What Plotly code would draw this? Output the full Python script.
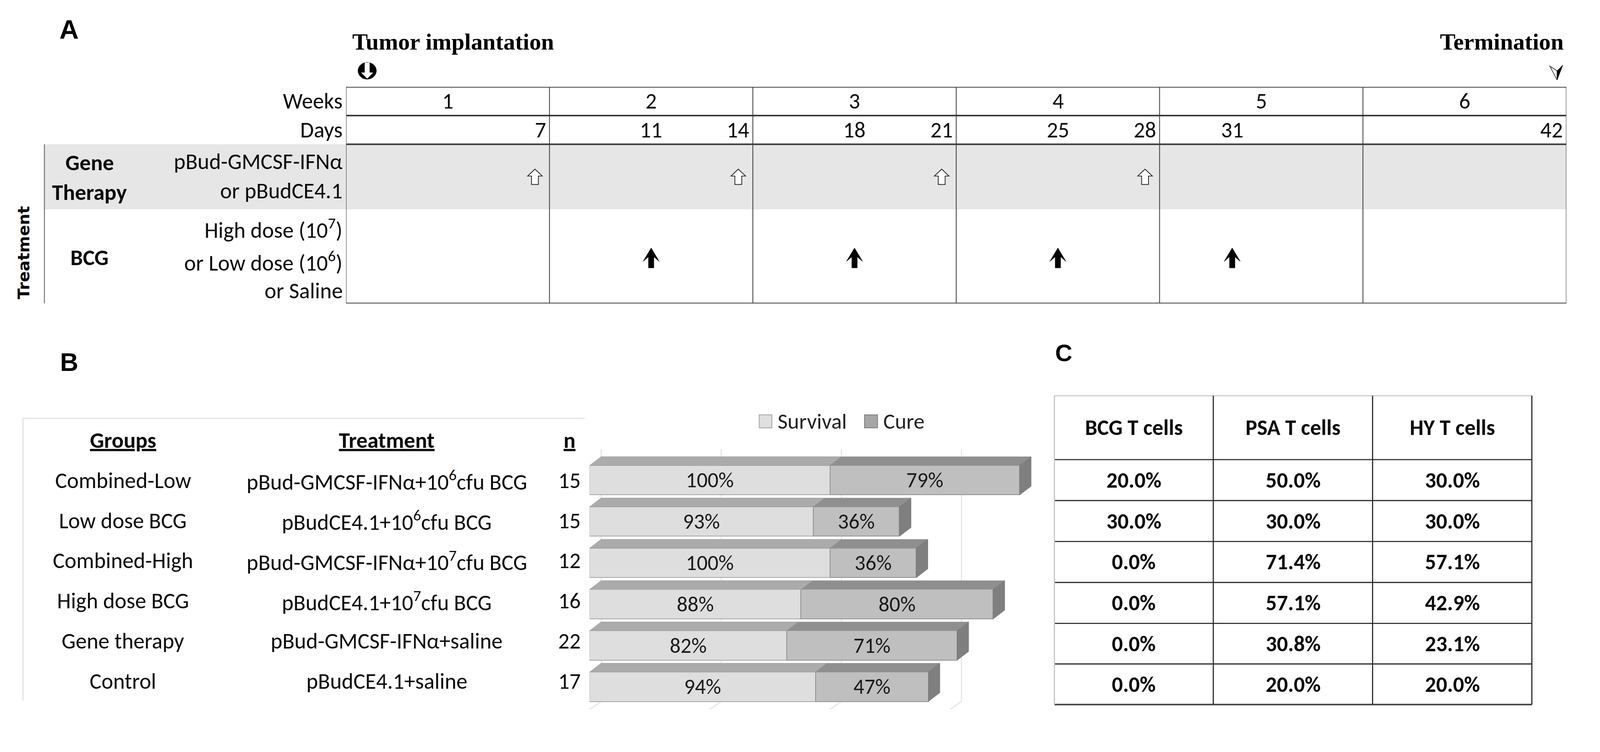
import plotly.graph_objects as go

W, H = 4179, 1926

# ---------------- data ----------------
WEEKS = [1, 2, 3, 4, 5, 6]
DAY_LABELS = [7, 11, 14, 18, 21, 25, 28, 31, 42]
GENE_DAYS = [7, 14, 21, 28]          # pBud-GMCSF-IFNa / pBudCE4.1 injections
BCG_DAYS = [11, 18, 25, 31]          # BCG / saline instillations
GENE_LABELS = ["pBud-GMCSF-IFNα", "or pBudCE4.1"]
BCG_LABELS = ["High dose (10<sup>7</sup>)", "or Low dose (10<sup>6</sup>)", "or Saline"]

GROUPS = ["Combined-Low", "Low dose BCG", "Combined-High", "High dose BCG",
          "Gene therapy", "Control"]
TREATMENTS = ["pBud-GMCSF-IFNα+10<sup>6</sup>cfu BCG",
              "pBudCE4.1+10<sup>6</sup>cfu BCG",
              "pBud-GMCSF-IFNα+10<sup>7</sup>cfu BCG",
              "pBudCE4.1+10<sup>7</sup>cfu BCG",
              "pBud-GMCSF-IFNα+saline",
              "pBudCE4.1+saline"]
N = [15, 15, 12, 16, 22, 17]
SURVIVAL = [100, 93, 100, 88, 82, 94]
CURE = [79, 36, 36, 80, 71, 47]

TCELL_HEADERS = ["BCG T cells", "PSA T cells", "HY T cells"]
BCG_T = [20.0, 30.0, 0.0, 0.0, 0.0, 0.0]
PSA_T = [50.0, 30.0, 71.4, 57.1, 30.8, 20.0]
HY_T = [30.0, 30.0, 57.1, 42.9, 23.1, 20.0]

# ---------------- helpers ----------------
def px(x):
    return x / W


def py(y):
    return 1 - y / H


SANS = "Carlito, Lato, sans-serif"
SERIF = "Liberation Serif, Times New Roman, serif"
ARIAL = "Liberation Sans, Arial, sans-serif"
FS = 58   # body text size
TXT = "#0a0a0a"

fig = go.Figure()
shapes = []
ann = []


def text(x, y, s, size=FS, xref="paper", yref="paper", xanchor="center",
         yanchor="middle", family=SANS, color=TXT, angle=0, xshift=0):
    ann.append(dict(x=x, y=y, xref=xref, yref=yref, text=s, showarrow=False,
                    xanchor=xanchor, yanchor=yanchor, textangle=angle,
                    xshift=xshift,
                    font=dict(family=family, size=size, color=color)))


def pix_path(xref, yref, xa, ya, path, fill, lc, lw):
    shapes.append(dict(type="path", xref=xref, yref=yref, xsizemode="pixel",
                       ysizemode="pixel", xanchor=xa, yanchor=ya, path=path,
                       fillcolor=fill, line=dict(color=lc, width=lw),
                       layer="above"))


# ================= Panel A : timeline =================
DAYS_MAX = 7 * len(WEEKS)
ROW_H_A = [75, 75, 170, 246]
edges = [0]
for h in ROW_H_A:
    edges.append(edges[-1] + h)
TOTAL_A = edges[-1]

# invisible anchor trace
fig.add_trace(go.Scatter(x=BCG_DAYS, y=[0] * len(BCG_DAYS), xaxis="x", yaxis="y",
                         mode="markers", marker=dict(opacity=0), hoverinfo="skip"))

# shading for gene therapy row
shapes.append(dict(type="rect", xref="paper", yref="y", x0=px(116), x1=px(4091),
                   y0=edges[2], y1=edges[3], fillcolor="#e6e6e6", line_width=0,
                   layer="below"))
for e in [edges[0], edges[1], edges[2], edges[4]]:
    shapes.append(dict(type="line", xref="x", yref="y", x0=0, x1=DAYS_MAX,
                       y0=e, y1=e, line=dict(color="#3a3a3a", width=4)))
for w in range(len(WEEKS) + 1):
    shapes.append(dict(type="line", xref="x", yref="y", x0=7 * w, x1=7 * w,
                       y0=0, y1=TOTAL_A, line=dict(color="#333", width=2)))
shapes.append(dict(type="line", xref="paper", yref="y", x0=px(116), x1=px(116),
                   y0=edges[2], y1=edges[4], line=dict(color="#555", width=2)))

# week numbers and days
for w in WEEKS:
    text(7 * w - 3.5, (edges[0] + edges[1]) / 2, str(w), xref="x", yref="y")
for d in DAY_LABELS:
    if d % 7 == 0:
        text(d, (edges[1] + edges[2]) / 2, str(d), xref="x", yref="y",
             xanchor="right", xshift=-7)
    else:
        text(d - 0.5, (edges[1] + edges[2]) / 2, str(d), xref="x", yref="y")

LAB_X = px(897)
text(LAB_X, (edges[0] + edges[1]) / 2, "Weeks", yref="y", xanchor="right")
text(LAB_X, (edges[1] + edges[2]) / 2, "Days", yref="y", xanchor="right")
text(LAB_X, 195, GENE_LABELS[0], yref="y", xanchor="right")
text(LAB_X, 271, GENE_LABELS[1], yref="y", xanchor="right")
for yy, s in zip([370, 456, 533], BCG_LABELS):
    text(LAB_X, yy, s, yref="y", xanchor="right")
text(px(234), 198, "<b>Gene</b>", yref="y")
text(px(234), 275, "<b>Therapy</b>", yref="y")
text(px(234), 446, "<b>BCG</b>", yref="y")
text(px(62), 433, "<b>Treatment</b>", yref="y", angle=-90,
     family="DejaVu Sans, sans-serif", size=42)

# arrows
OPEN_ARROW = "M0,20 L19,2 L9,2 L9,-20 L-9,-20 L-9,2 L-19,2 Z"
SOLID_ARROW = "M0,26 L21,-9 L7,3 L7,-26 L-7,-26 L-7,3 L-21,-9 Z"
for d in GENE_DAYS:
    pix_path("x", "y", d - 0.5, 235, OPEN_ARROW, "white", "#222", 2)
for d in BCG_DAYS:
    pix_path("x", "y", d - 0.5, 447, SOLID_ARROW, "black", "black", 1)

# tumour implantation / termination markers
shapes.append(dict(type="circle", xref="x", yref="paper", xsizemode="pixel",
                   ysizemode="pixel", xanchor=0, yanchor=py(185),
                   x0=31, x1=79, y0=-22, y1=22, fillcolor="black",
                   line=dict(color="black", width=1)))
pix_path("x", "paper", 0, py(185),
         "M49,21 L61,21 L61,-5 L70,-5 L55,-20 L40,-5 L49,-5 Z", "white", "white", 1)
pix_path("x", "paper", DAYS_MAX, py(190),
         "M-43,17 L-24,5 L-24,-19 Z", "white", "#444", 2)
pix_path("x", "paper", DAYS_MAX, py(190),
         "M-24,5 L-9,20 L-24,-19 Z", "black", "black", 1)

text(px(918), py(110), "<b>Tumor implantation</b>", family=SERIF, size=61,
     xanchor="left", color="#000")
text(px(4086), py(110), "<b>Termination</b>", family=SERIF, size=61,
     xanchor="right", color="#000")

# panel letters
text(px(180), py(77), "<b>A</b>", family=ARIAL, size=70, color="#000")
text(px(181), py(946), "<b>B</b>", family=ARIAL, size=66, color="#000")
text(px(2778), py(922), "<b>C</b>", family=ARIAL, size=62, color="#000")

# ================= Panel B : group table =================
shapes.append(dict(type="line", xref="paper", yref="paper", x0=px(59), x1=px(1527),
                   y0=py(1093), y1=py(1093), line=dict(color="#d6d6d6", width=2)))
shapes.append(dict(type="line", xref="paper", yref="paper", x0=px(60), x1=px(60),
                   y0=py(1093), y1=py(1831), line=dict(color="#d6d6d6", width=2)))
COLX = [321, 1010, 1487]
for cx, s in zip(COLX, ["Groups", "Treatment", "n"]):
    text(px(cx), py(1150), f"<b><u>{s}</u></b>", size=FS)
for i in range(len(GROUPS)):
    yy = py(1255 + 105 * i)
    text(px(COLX[0]), yy, GROUPS[i])
    text(px(COLX[1]), yy, TREATMENTS[i])
    text(px(COLX[2]), yy, str(N[i]))

# ================= Panel B : 3-D stacked bars =================
X_MAX = 200
Y_TOP, Y_BOT = -0.75, 5.55
BW = 0.714
ypos = list(range(len(GROUPS)))
bar_px_per_unit = (2795 - 1540) / X_MAX
row_px = (1854 - 1174) / (Y_BOT - Y_TOP)
DX = 30 / bar_px_per_unit
DY = 23 / row_px

fig.add_trace(go.Bar(x=SURVIVAL, y=ypos, orientation="h", xaxis="x2", yaxis="y2",
                     width=BW, name="Survival",
                     marker=dict(color="#dedede", line=dict(color="#a5a5a5", width=2)),
                     text=[f"{v}%" for v in SURVIVAL], textposition="inside",
                     insidetextanchor="middle", constraintext="none",
                     textfont=dict(family=SANS, size=56, color="#1a1a1a"),
                     hoverinfo="skip"))
fig.add_trace(go.Bar(x=CURE, y=ypos, orientation="h", xaxis="x2", yaxis="y2",
                     width=BW, name="Cure",
                     marker=dict(color="#bfbfbf", line=dict(color="#8f8f8f", width=2)),
                     text=[f"{v}%" for v in CURE], textposition="inside",
                     insidetextanchor="middle", constraintext="none",
                     textfont=dict(family=SANS, size=56, color="#1a1a1a"),
                     hoverinfo="skip"))

floor_back = ypos[-1] + BW / 2
floor_front = floor_back + DY * 0.9
for g in range(0, X_MAX, 50):
    shapes.append(dict(type="line", xref="x2", yref="y2", x0=g + DX, x1=g + DX,
                       y0=Y_TOP, y1=floor_back, line=dict(color="#d9d9d9", width=2),
                       layer="below"))
    shapes.append(dict(type="line", xref="x2", yref="y2", x0=g, x1=g + DX,
                       y0=floor_front, y1=floor_back,
                       line=dict(color="#d9d9d9", width=2), layer="below"))

for i, (s, c) in enumerate(zip(SURVIVAL, CURE)):
    yf = i - BW / 2
    yb = yf - DY
    for a, b, col in [(0, s, "#ababab"), (s, s + c, "#8f8f8f")]:
        shapes.append(dict(type="path", xref="x2", yref="y2",
                           path=f"M{a},{yf} L{b},{yf} L{b + DX},{yb} L{a + DX},{yb} Z",
                           fillcolor=col, line=dict(color="#999", width=1)))
    e = s + c
    shapes.append(dict(type="path", xref="x2", yref="y2",
                       path=(f"M{e},{yf} L{e + DX},{yb} L{e + DX},{i + BW / 2 - DY} "
                             f"L{e},{i + BW / 2} Z"),
                       fillcolor="#7f7f7f", line=dict(color="#777", width=1)))

# legend (drawn manually to get large swatches)
for (x0, x1, tx, name, col, lc) in [(1983, 2016, 2029, "Survival", "#e0e0e0", "#a0a0a0"),
                                    (2258, 2292, 2305, "Cure", "#a6a6a6", "#7a7a7a")]:
    shapes.append(dict(type="rect", xref="paper", yref="paper", x0=px(x0), x1=px(x1),
                       y0=py(1118), y1=py(1084), fillcolor=col,
                       line=dict(color=lc, width=2)))
    text(px(tx), py(1100), name, size=57, xanchor="left", color="#222")

# ================= Panel C : T-cell table =================
CX = [2754, 3169, 3585, 4001]
RY = [1034, 1201, 1308, 1415, 1522, 1629, 1735, 1841]
for k, yv in enumerate(RY):
    if k == 0:
        lc, lw = "#d0d0d0", 3
    elif k == len(RY) - 1:
        lc, lw = "#444", 4
    else:
        lc, lw = "#2a2a2a", 3
    shapes.append(dict(type="line", xref="paper", yref="paper", x0=px(CX[0]),
                       x1=px(CX[-1]), y0=py(yv), y1=py(yv),
                       line=dict(color=lc, width=lw)))
for k, xv in enumerate(CX):
    lc = "#c4c4c4" if k == 0 else "#2a2a2a"
    shapes.append(dict(type="line", xref="paper", yref="paper", x0=px(xv), x1=px(xv),
                       y0=py(RY[0]), y1=py(RY[-1]), line=dict(color=lc, width=3)))

cols = [BCG_T, PSA_T, HY_T]
for j, hdr in enumerate(TCELL_HEADERS):
    cx = px((CX[j] + CX[j + 1]) / 2)
    text(cx, py((RY[0] + RY[1]) / 2), f"<b>{hdr}</b>", size=57)
    for i, v in enumerate(cols[j]):
        text(cx, py((RY[i + 1] + RY[i + 2]) / 2), f"<b>{v:.1f}%</b>", size=57)

# ================= layout =================
fig.update_layout(
    width=W, height=H, margin=dict(l=0, r=0, t=0, b=0),
    paper_bgcolor="white", plot_bgcolor="rgba(0,0,0,0)",
    showlegend=False, barmode="stack", bargap=0,
    font=dict(family=SANS, size=FS, color=TXT),
    xaxis=dict(domain=[px(904), px(4091)], range=[0, DAYS_MAX], visible=False),
    yaxis=dict(domain=[py(227 + TOTAL_A), py(227)], range=[TOTAL_A, 0], visible=False),
    xaxis2=dict(domain=[px(1540), px(2795)], range=[0, X_MAX], visible=False,
                anchor="y2"),
    yaxis2=dict(domain=[py(1854), py(1174)], range=[Y_BOT, Y_TOP], visible=False,
                anchor="x2"),
    shapes=shapes, annotations=ann,
)

# fit the fixed-size figure into whatever viewport the page is shown in
POST = (
    "document.documentElement.style.margin='0';"
    "document.body.style.margin='0';"
    "document.body.style.overflow='hidden';"
    "document.documentElement.style.overflow='hidden';"
    "var gd=document.getElementById('{plot_id}');"
    "var s=Math.min(window.innerWidth/%d, window.innerHeight/%d);"
    "if(s>0 && s<1){gd.style.transformOrigin='0 0';"
    "gd.style.transform='scale('+s+')';}" % (W, H)
)
fig.write_html("out.html", config={"displayModeBar": False}, post_script=POST)
